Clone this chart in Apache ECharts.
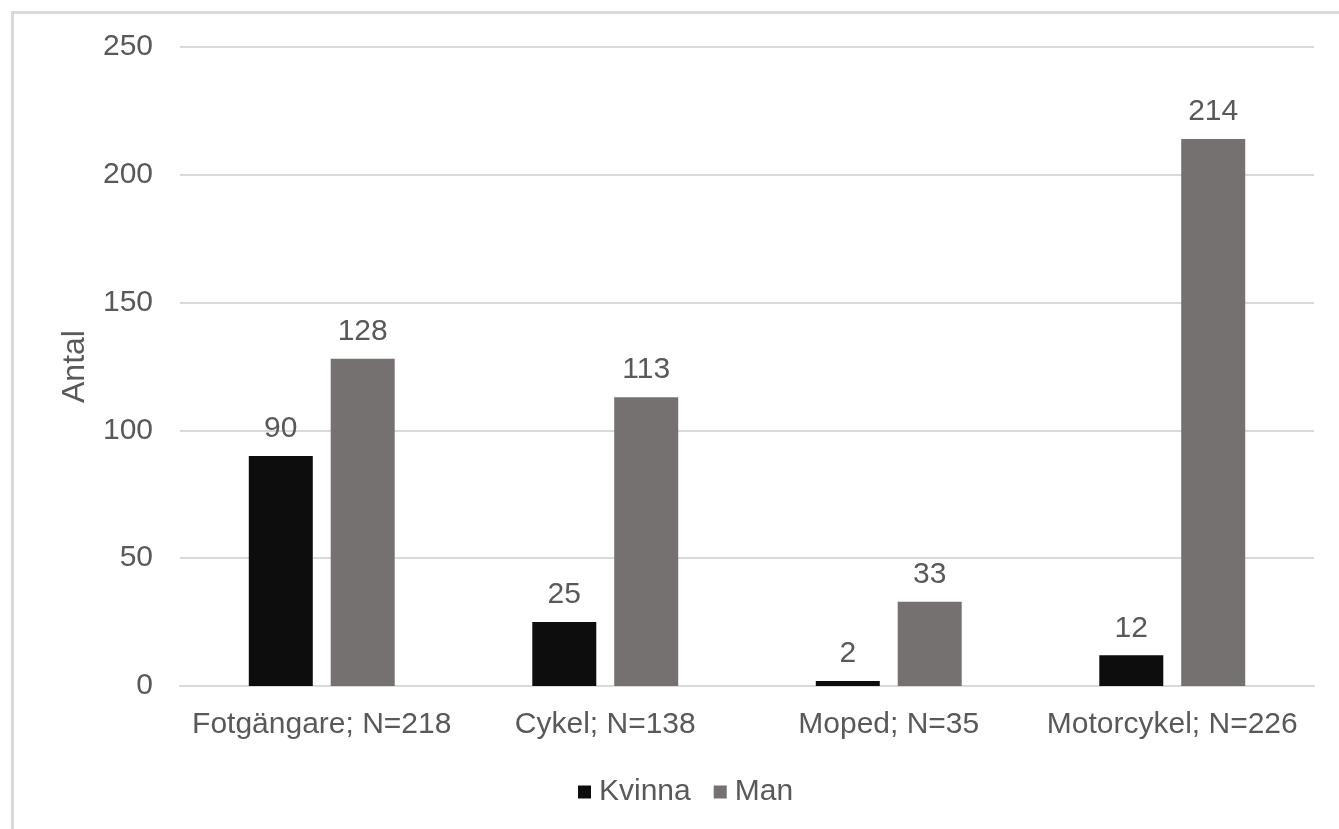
<!DOCTYPE html>
<html>
<head>
<meta charset="utf-8">
<script src="https://cdn.jsdelivr.net/npm/echarts@6/dist/echarts.min.js"></script>
<style>
  html, body { margin: 0; padding: 0; background: #fff; }
  #chart { width: 1339px; height: 829px; }
</style>
</head>
<body>
<div id="chart"></div>
<script>
const categories = ['Fotgängare; N=218', 'Cykel; N=138', 'Moped; N=35', 'Motorcykel; N=226']
const kvinna = [90, 25, 2, 12]
const man = [128, 113, 33, 214]
const yTicks = [0, 50, 100, 150, 200, 250]

const textColor = '#595959'
const font = 'Liberation Sans, Arial, sans-serif'

const chart = echarts.init(document.getElementById('chart'))

const labelStyle = {
  show: true,
  position: 'top',
  distance: 12,
  color: textColor,
  fontSize: 30,
  fontFamily: font
}

chart.setOption({
  animation: false,
  graphic: [{
    type: 'rect',
    left: 10,
    top: 10,
    shape: { width: 1340, height: 830 },
    style: { fill: 'none', stroke: '#d9d9d9', lineWidth: 3 }
  }],
  legend: {
    left: 573,
    top: 772,
    itemWidth: 13,
    itemHeight: 13,
    itemGap: 23,
    icon: 'rect',
    textStyle: { color: textColor, fontSize: 30, fontFamily: font, padding: [0, 0, 0, 3] },
    data: ['Kvinna', 'Man']
  },
  grid: { left: 180, right: 25, top: 47, bottom: 143 },
  xAxis: {
    type: 'category',
    data: categories,
    axisLine: { lineStyle: { color: '#d9d9d9', width: 2 } },
    axisTick: { show: false },
    axisLabel: { color: textColor, fontSize: 30, fontFamily: font, margin: 24, interval: 0 }
  },
  yAxis: {
    type: 'value',
    min: yTicks[0],
    max: yTicks[yTicks.length - 1],
    interval: 50,
    name: 'Antal',
    nameLocation: 'middle',
    nameGap: 89,
    nameRotate: 90,
    nameTextStyle: { color: textColor, fontSize: 32, fontFamily: font },
    axisLine: { show: false },
    axisTick: { show: false },
    splitLine: { lineStyle: { color: '#d9d9d9', width: 2 } },
    axisLabel: { color: textColor, fontSize: 30, fontFamily: font, margin: 27 }
  },
  series: [
    {
      name: 'Kvinna',
      type: 'bar',
      data: kvinna,
      barWidth: 64,
      barGap: '28%',
      itemStyle: { color: '#0d0d0d' },
      label: labelStyle
    },
    {
      name: 'Man',
      type: 'bar',
      data: man,
      barWidth: 64,
      itemStyle: { color: '#767171' },
      label: labelStyle
    }
  ]
})
</script>
</body>
</html>
